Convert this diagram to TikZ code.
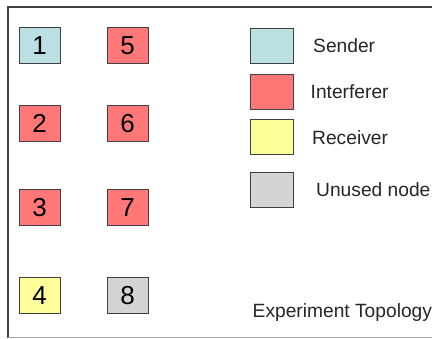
\documentclass[tikz,border=0pt]{standalone}
\usepackage{fontspec}
\setmainfont{Liberation Sans}
\definecolor{sendc}{HTML}{BBE0E3}
\definecolor{intc}{HTML}{FF7777}
\definecolor{recc}{HTML}{FFFF99}
\definecolor{unc}{HTML}{D4D4D4}
\definecolor{edge}{HTML}{404040}
\begin{document}
\begin{tikzpicture}[x=1pt,y=-1pt,
  nodebox/.style={draw=edge,line width=1pt,minimum width=41pt,minimum height=36pt,inner sep=0pt,font=\fontsize{26}{26}\selectfont},
  legbox/.style={draw=edge,line width=1pt,minimum width=43pt,minimum height=35pt,inner sep=0pt},
  legtext/.style={anchor=west,inner sep=0pt,font=\fontsize{19.2}{19.2}\selectfont,text=black!85}]
\useasboundingbox (0,0) rectangle (432,339);
\fill[white] (0,0) rectangle (432,339);
\draw[edge,line width=1.5pt] (432,7) -- (8,7) -- (8,338);
\draw[black!35,line width=1pt] (8,338) -- (432,338);
% nodes
\node[nodebox,fill=sendc] (n1) at (39.5,45.5) {1};
\node[nodebox,fill=intc] (n2) at (39.5,123.5) {2};
\node[nodebox,fill=intc] (n3) at (39.5,208) {3};
\node[nodebox,fill=recc] (n4) at (39.5,296) {4};
\node[nodebox,fill=intc] (n5) at (127.5,45.5) {5};
\node[nodebox,fill=intc] (n6) at (127.5,123.5) {6};
\node[nodebox,fill=intc] (n7) at (127.5,208) {7};
\node[nodebox,fill=unc] (n8) at (127.5,296) {8};
% legend
\node[legbox,fill=sendc] (l1) at (271.5,46) {};
\node[legbox,fill=intc] (l2) at (271.5,92) {};
\node[legbox,fill=recc] (l3) at (271.5,137.5) {};
\node[legbox,fill=unc] (l4) at (271.5,190) {};
\node[legtext] (t1) at (313,46) {Sender};
\node[legtext] (t2) at (310.5,92) {Interferer};
\node[legtext] (t3) at (312,138) {Receiver};
\node[legtext] (t4) at (316,190) {Unused node};
\node[legtext] (t5) at (252.5,313) {Experiment Topology};
\end{tikzpicture}
\end{document}
